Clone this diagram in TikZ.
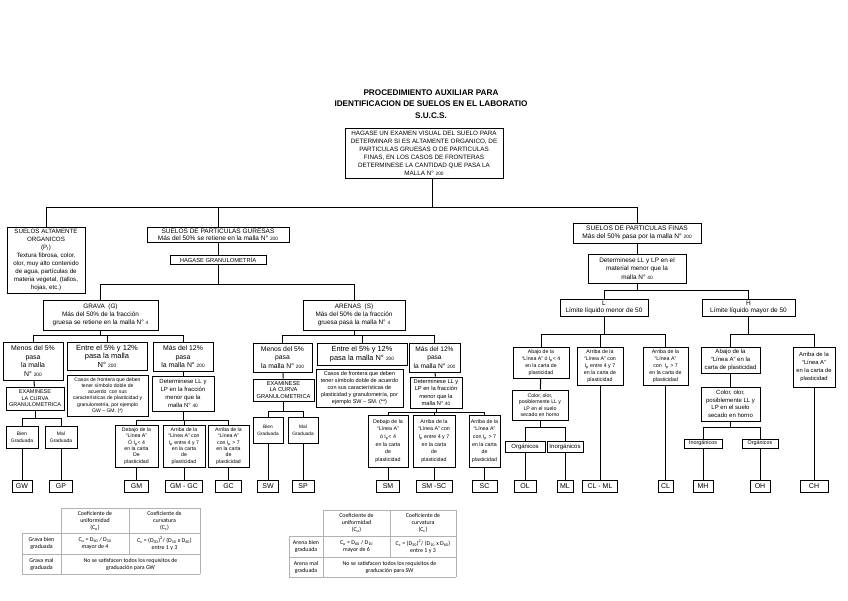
\documentclass[tikz,border=0pt]{standalone}
\usepackage{fontspec}
\setmainfont{Liberation Sans}
\newfontfamily\tabfont{Carlito}
\usepackage{tikz}

\newcommand{\nsm}[1]{{\fontsize{4.8}{5}\selectfont #1}}
\newcommand{\fs}[2]{\fontsize{#1}{#2}\selectfont}

\begin{document}
\begin{tikzpicture}[x=1pt,y=-1pt,line width=1pt,
   bx/.style={draw,line width=1pt,align=center,inner sep=0.3pt},
   sz/.style 2 args={minimum width=#1pt,minimum height=#2pt},
   lf/.style={draw,line width=1pt,inner sep=0pt,minimum height=12pt,font=\fs{7}{7}},
   tl/.style={draw=gray!60,line width=0.6pt},
   tc/.style={align=center,inner sep=0pt,font=\tabfont\fs{5.9}{7}}]
  \useasboundingbox (0,0) rectangle (848,600);

  \node[align=center,font=\bfseries\fs{8.2}{11.3}] (title) at (431,104)
    {PROCEDIMIENTO AUXILIAR PARA\\IDENTIFICACION DE SUELOS EN EL LABORATIO\\S.U.C.S.};
  \node[bx,sz={158}{50},font=\fs{6.3}{8}] (top) at (424,153)
    {HAGASE UN EXAMEN VISUAL DEL SUELO PARA\\DETERMINAR SI ES ALTAMENTE ORGANICO, DE\\PARTICULAS GRUESAS O DE PARTICULAS\\FINAS, EN LOS CASOS DE FRONTERAS\\DETERMINESE LA CANTIDAD QUE PASA LA\\MALLA N° \nsm{200}};

  % primer nivel
  \node[bx,sz={78}{66},font=\fs{6.2}{7.9}] (org) at (46,260)
    {SUELOS ALTAMENTE\\ORGANICOS\\(P\textsubscript{t})\\Textura fibrosa, color,\\olor, muy alto contenido\\de agua, partículas de\\materia vegetal, (tallos,\\hojas, etc.)};
  \node[bx,sz={142}{15},font=\fs{6.5}{7}] (gru) at (218,234.5)
    {SUELOS DE PARTICULAS GURESAS\\Más del 50\% se retiene en la malla N° \nsm{200}};
  \node[bx,sz={96}{9},font=\fs{5.8}{6}] (gran) at (218,260) {HAGASE GRANULOMETRÍA};
  \node[bx,sz={128}{20},font=\fs{6.6}{8}] (fin) at (637,233)
    {SUELOS DE PARTICULAS FINAS\\Más del 50\% pasa por la malla N° \nsm{200}};
  \node[bx,sz={98}{29},font=\fs{6.4}{8.3}] (det) at (637,268.5)
    {Determinese LL y LP en el\\material menor que la\\malla N° \nsm{40}};

  \node[bx,sz={115}{30},font=\fs{6.4}{8.3}] (grava) at (100.5,315)
    {GRAVA\ \ (G)\\Más del 50\% de la fracción\\gruesa se retiene en la malla N° \nsm{4}};
  \node[bx,sz={102}{30},font=\fs{6.4}{8.3}] (arenas) at (354,315)
    {ARENAS\ \ (S)\\Más del 50\% de la fracción\\gruesa pasa la malla N° \nsm{4}};
  \node[bx,sz={88}{17},font=\fs{6.5}{7.2}] (L) at (604,307.5) {L\\Límite líquido menor de 50};
  \node[bx,sz={93}{17},font=\fs{6.5}{7.2}] (H) at (748.5,307.5) {H\\Límite líquido mayor de 50};

  % gravas
  \node[bx,sz={60}{38},font=\fs{6.9}{8.6}] (gMenos) at (33,361) {Menos del 5\%\\pasa\\la malla\\N° \nsm{200}};
  \node[bx,sz={80}{28},font=\fs{7.5}{8.5}] (gEntre) at (107,356) {Entre el 5\% y 12\%\\pasa la malla\\N° \nsm{200}};
  \node[bx,sz={60}{29},font=\fs{6.9}{8.5}] (gMas) at (183,356.5) {Más del 12\%\\pasa\\la malla N° \nsm{200}};
  \node[bx,sz={81}{41},font=\fs{5.1}{6.3}] (gCasos) at (107.5,395.5)
    {Casos de frontera que deben\\tener símbolo doble de\\acuerdo\ \ con sus\\características de plasticidad y\\granulometría, por ejemplo\\GW -- GM. (*)};
  \node[bx,sz={58}{23},font=\fs{5.5}{6.5}] (gExam) at (35,398.5) {EXAMINESE\\LA CURVA\\GRANULOMETRICA};
  \node[bx,sz={62}{35},font=\fs{6}{7.8}] (gDet) at (183,393.5) {Determinese LL y\\LP en la fracción\\menor que la\\malla N° \nsm{40}};
  \node[bx,sz={32}{22},font=\fs{5}{7}] (gBien) at (22,437) {Bien\\Graduada};
  \node[bx,sz={32}{22},font=\fs{5}{7}] (gMal) at (61,437) {Mal\\Graduada};
  \node[bx,sz={43}{42},font=\fs{5.2}{6.4}] (gDeb) at (136.5,446)
    {Debajo de la\\``Línea A''\\Ó I\textsubscript{p}< 4\\en la carta\\De\\plasticidad};
  \node[bx,sz={42}{42},font=\fs{5.2}{6.4}] (gArr) at (184,446)
    {Arriba de la\\``Línea A'' con\\I\textsubscript{p} entre 4 y 7\\en la carta\\de\\plasticidad};
  \node[bx,sz={41}{42},font=\fs{5.2}{6.4}] (gArr2) at (228.5,446)
    {Arriba de la\\``Línea A''\\con I\textsubscript{p} > 7\\en la carta\\de\\plasticidad};

  % arenas
  \node[bx,sz={59}{29},font=\fs{6.8}{8.5}] (sMenos) at (282.5,357.5) {Menos del 5\%\\pasa\\la malla N° \nsm{200}};
  \node[bx,sz={90}{22},font=\fs{7.4}{8.3}] (sEntre) at (362,354) {Entre el 5\% y 12\%\\pasa la malla N° \nsm{200}};
  \node[bx,sz={87}{38},font=\fs{5.5}{6.9}] (sCasos) at (359.5,388)
    {Casos de frontera que deben\\tener símbolo doble de acuerdo\\con sus características de\\plasticidad y granulometría, por\\ejemplo SW -- SM. (**)};
  \node[bx,sz={51}{29},font=\fs{6.6}{8.5}] (sMas) at (434.5,357.5) {Más del 12\%\\pasa\\la malla N° \nsm{200}};
  \node[bx,sz={61}{22},font=\fs{5.7}{6.5}] (sExam) at (283.5,390) {EXAMINESE\\LA CURVA\\GRANULOMETRICA};
  \node[bx,sz={52}{31},font=\fs{5.7}{7.2}] (sDet) at (436,392.5) {Determinese LL y\\LP en la fracción\\menor que la\\malla N° \nsm{40}};
  \node[bx,sz={30}{26},font=\fs{4.8}{7}] (sBien) at (268,430) {Bien\\Graduada};
  \node[bx,sz={30}{26},font=\fs{4.8}{7}] (sMal) at (303,430) {Mal\\Graduada};
  \node[bx,sz={40}{52},font=\fs{5.3}{7.6}] (sDeb) at (388,441)
    {Debajo de la\\``Línea A''\\ó I\textsubscript{p}< 4\\en la carta\\de\\plasticidad};
  \node[bx,sz={42}{52},font=\fs{5.3}{7.6}] (sArr) at (434,441)
    {Arriba de la\\``Línea A'' con\\I\textsubscript{p} entre 4 y 7\\en la carta\\de\\plasticidad};
  \node[bx,sz={31}{52},font=\fs{5.3}{7.6}] (sArr2) at (484.5,441)
    {Arriba de la\\``Línea A''\\con I\textsubscript{p} > 7\\en la carta\\de\\plasticidad};

  % finos
  \node[bx,sz={56}{31},font=\fs{5.2}{6.8}] (fAbL) at (541,362.5)
    {Abajo de la\\``Línea A'' ó I\textsubscript{p}< 4\\en la carta de\\plasticidad};
  \node[bx,sz={46}{38},font=\fs{5.3}{7}] (fArL) at (600,366)
    {Arriba de la\\``Línea A'' con\\I\textsubscript{p} entre 4 y 7\\en la carta de\\plasticidad};
  \node[bx,sz={45}{38},font=\fs{5.3}{7}] (fArL2) at (665.5,366)
    {Arriba de la\\``Línea A''\\con\ \ I\textsubscript{p} > 7\\en la carta de\\plasticidad};
  \node[bx,sz={56}{30},font=\fs{5.2}{6.5}] (fColL) at (540,405)
    {Color, olor,\\posiblemente LL y\\LP en el suelo\\secado en horno};
  \node[bx,sz={40}{11},font=\fs{6}{6}] (fOrgL) at (525,446.5) {Orgánicos};
  \node[bx,sz={36}{11},font=\fs{6}{6}] (fInoL) at (565,446.5) {Inorgánicos};
  \node[bx,sz={59}{26},font=\fs{6}{7.6}] (fAbH) at (730.5,360)
    {Abajo de la\\``Línea A'' en la\\carta de plasticidad};
  \node[bx,sz={42}{40},font=\fs{5.8}{7.8}] (fArH) at (814,367)
    {Arriba de la\\``Línea A''\\en la carta de\\plasticidad};
  \node[bx,sz={59}{34},font=\fs{6}{7.6}] (fColH) at (730.5,404)
    {Color, olor,\\posiblemente LL y\\LP en el suelo\\secado en horno};
  \node[bx,sz={38}{9},font=\fs{5.4}{6}] (fInoH) at (703,443.5) {Inorgánicos};
  \node[bx,sz={36}{9},font=\fs{5.4}{6}] (fOrgH) at (760,443.5) {Orgánicos};

  % simbolos finales
  \foreach \nm/\px/\w/\txt in {GW/22/20/GW,GP/61/23/GP,GM/136.5/24/GM,GMGC/184/37/GM - GC,GC/228.5/26/GC,
      SW/268/21/SW,SP/303/22/SP,SM/388/23/SM,SMSC/434/36/SM -SC,SC/484.5/25/SC,
      OL/525/22/OL,ML/565/16/ML,CLML/600/35/CL - ML,CL/665.5/15/CL,MH/703/20/MH,OH/760/20/OH,CH/814/28/CH}
    \node[lf,minimum width=\w pt] (\nm) at (\px,486) {\txt};

  % conectores
  \foreach \c in {org,gru,fin}
    \draw ([xshift=8pt]top.south) -- ++(0,29) -| (\c.north);
  \draw (gru) -- (gran);
  \draw (fin) -- (det);
  \foreach \p/\c/\d in {gran/grava/19,gran/arenas/19,det/L/7,det/H/7,
      grava/gMenos/5,grava/gEntre/5,grava/gMas/5,gExam/gBien/8,gExam/gMal/8,
      gDet/gDeb/9,gDet/gArr/9,gDet/gArr2/9,
      arenas/sMenos/5,arenas/sEntre/5,arenas/sMas/5,sExam/sBien/10,sExam/sMal/10,
      sDet/sDeb/4,sDet/sArr/4,sDet/sArr2/4,
      L/fAbL/18,L/fArL/18,L/fArL2/18,fColL/fOrgL/7,fColL/fInoL/7,
      H/fAbH/18,H/fArH/18,fColH/fInoH/6,fColH/fOrgH/6}
    \draw (\p.south) -- ++(0,\d) -| (\c.north);
  \foreach \a/\b in {gMenos/gExam,gMas/gDet,sMenos/sExam,sMas/sDet,fAbL/fColL,fAbH/fColH,
      gBien/GW,gMal/GP,gDeb/GM,gArr/GMGC,gArr2/GC,sBien/SW,sMal/SP,sDeb/SM,sArr/SMSC,sArr2/SC,
      fOrgL/OL,fInoL/ML,fArL/CLML,fArL2/CL,fInoH/MH,fOrgH/OH,fArH/CH}
    \draw (\a) -- (\b);

  % tabla gravas
  \draw[tl] (61,508) -- (200,508) (22,533) -- (200,533) (22,554) -- (200,554) (22,574) -- (200,574);
  \draw[tl] (22,533) -- (22,574) (61,508) -- (61,574) (129,508) -- (129,554) (200,508) -- (200,574);
  \node[tc] (t1cu) at (95,520.5) {Coeficiente de\\uniformidad\\(C\textsubscript{u})};
  \node[tc] (t1cc) at (164.5,520.5) {Coeficiente de\\curvatura\\(C\textsubscript{c})};
  \node[tc] (t1bien) at (41.5,543.5) {Grava bien\\graduada};
  \node[tc] (t1bcu) at (95,543.5) {C\textsubscript{u} = D\textsubscript{60} / D\textsubscript{10}\\mayor de 4};
  \node[tc] (t1bcc) at (164.5,543.5) {C\textsubscript{c} = (D\textsubscript{30})\textsuperscript{2}/ (D\textsubscript{10} x D\textsubscript{60})\\entre 1 y 3};
  \node[tc] (t1mal) at (41.5,564) {Grava mal\\graduada};
  \node[tc] (t1mtx) at (130.5,564) {No se satisfacen todos los requisitos de\\graduación para GW};

  % tabla arenas
  \draw[tl] (323,510) -- (456,510) (289,536) -- (456,536) (289,557) -- (456,557) (289,577) -- (456,577);
  \draw[tl] (289,536) -- (289,577) (323,510) -- (323,577) (390,510) -- (390,557) (456,510) -- (456,577);
  \node[tc] (t2cu) at (356.5,523) {Coeficiente de\\uniformidad\\(C\textsubscript{u})};
  \node[tc] (t2cc) at (423,523) {Coeficiente de\\curvatura\\(C\textsubscript{c})};
  \node[tc] (t2bien) at (306,546.5) {Arena bien\\graduada};
  \node[tc] (t2bcu) at (356.5,546.5) {C\textsubscript{u} = D\textsubscript{60} / D\textsubscript{10}\\mayor de 6};
  \node[tc] (t2bcc) at (423,546.5) {C\textsubscript{c} = (D\textsubscript{30})\textsuperscript{2}/ (D\textsubscript{10} x D\textsubscript{60})\\entre 1 y 3};
  \node[tc] (t2mal) at (306,567) {Arena mal\\graduada};
  \node[tc] (t2mtx) at (389.5,567) {No se satisfacen todos los requisitos de\\graduación para SW};
\end{tikzpicture}
\end{document}
